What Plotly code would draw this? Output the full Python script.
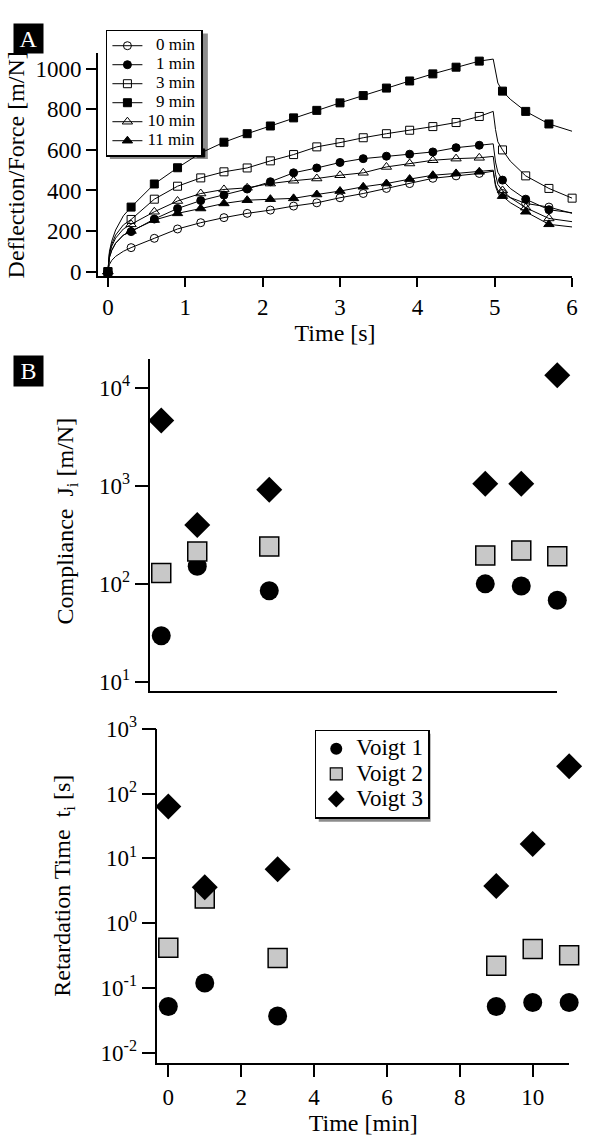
import plotly.graph_objects as go

W, H = 590, 1145
FONT = "Liberation Serif, Times New Roman, serif"

# ---------------- Panel A data ----------------
t_line = [0, 0.02, 0.05, 0.1, 0.2, 0.3, 0.6, 0.9, 1.2, 1.5, 1.8, 2.1, 2.4, 2.7, 3.0,
          3.3, 3.6, 3.9, 4.2, 4.5, 4.8, 4.98, 5.01, 5.04, 5.1, 5.2, 5.4, 5.7, 6.0]
t_mark = [0, 0.3, 0.6, 0.9, 1.2, 1.5, 1.8, 2.1, 2.4, 2.7, 3.0, 3.3, 3.6, 3.9, 4.2,
          4.5, 4.8, 5.1, 5.4, 5.7]
t_mark_3min = t_mark + [6.0]

series_names = ["0 min", "1 min", "3 min", "9 min", "10 min", "11 min"]
defl_0min = [0, 35, 55, 75, 100, 118, 164, 210, 241, 266, 287, 303, 323, 339, 364,
             385, 410, 434, 460, 472, 484, 495, 430, 400, 385, 365, 336, 318, 287]
defl_1min = [0, 70, 105, 140, 180, 197, 259, 311, 350, 377, 407, 443, 487, 511, 538,
             557, 569, 579, 590, 611, 623, 630, 540, 490, 451, 410, 357, 305, 290]
defl_3min = [0, 90, 135, 180, 230, 257, 357, 421, 462, 492, 511, 546, 577, 615, 636,
             660, 680, 697, 715, 735, 765, 790, 700, 640, 600, 545, 472, 410, 362]
defl_9min = [0, 100, 150, 205, 275, 318, 432, 512, 585, 638, 680, 718, 758, 795, 832,
             868, 905, 940, 975, 1008, 1038, 1048, 980, 930, 890, 850, 790, 728, 692]
defl_10min = [0, 85, 125, 165, 210, 233, 295, 348, 385, 405, 413, 434, 448, 459, 475,
              487, 516, 533, 549, 557, 561, 568, 480, 430, 400, 365, 315, 262, 246]
defl_11min = [0, 70, 105, 140, 180, 200, 254, 287, 311, 336, 352, 357, 361, 380, 397,
              418, 434, 456, 475, 484, 492, 500, 420, 390, 372, 340, 295, 233, 220]

# ---------------- Panel B data ----------------
time_min = [0, 1, 3, 9, 10, 11]
voigt_names = ["Voigt 1", "Voigt 2", "Voigt 3"]
J1 = [29.5, 151, 85, 100, 95, 68]
J2 = [129, 214, 240, 195, 219, 191]
J3 = [4650, 398, 912, 1050, 1050, 13500]
tau1 = [0.052, 0.12, 0.037, 0.052, 0.060, 0.060]
tau2 = [0.42, 2.4, 0.29, 0.22, 0.40, 0.32]
tau3 = [63, 3.6, 6.8, 3.75, 16.7, 263]

A_xticks = [0, 1, 2, 3, 4, 5, 6]
A_yticks = [0, 200, 400, 600, 800, 1000]
B_xticks = [0, 2, 4, 6, 8, 10]
J_ticks = [10, 100, 1000, 10000]
J_ticktext = ["10<sup>1</sup>", "10<sup>2</sup>", "10<sup>3</sup>", "10<sup>4</sup>"]
tau_ticks = [0.01, 0.1, 1, 10, 100, 1000]
tau_ticktext = ["10<sup>-2</sup>", "10<sup>-1</sup>", "10<sup>0</sup>",
                "10<sup>1</sup>", "10<sup>2</sup>", "10<sup>3</sup>"]

# ---------------- styles ----------------
A_styles = {
    "0 min": dict(symbol="circle-open", size=8),
    "1 min": dict(symbol="circle", size=8),
    "3 min": dict(symbol="square-open", size=8),
    "9 min": dict(symbol="square", size=8),
    "10 min": dict(symbol="triangle-up-open", size=9),
    "11 min": dict(symbol="triangle-up", size=9),
}
A_values = {"0 min": defl_0min, "1 min": defl_1min, "3 min": defl_3min,
            "9 min": defl_9min, "10 min": defl_10min, "11 min": defl_11min}


def px_x(p):
    return p / W


def px_y(p):
    return 1 - p / H


fig = go.Figure()

for name in series_names:
    vals = A_values[name]
    marks = t_mark_3min if name == "3 min" else t_mark
    mx = [t for t in t_line if t in marks]
    my = [v for t, v in zip(t_line, vals) if t in marks]
    st = A_styles[name]
    fig.add_trace(go.Scatter(x=t_line, y=vals, mode="lines", line=dict(color="black", width=1),
                             showlegend=False, xaxis="x", yaxis="y", hoverinfo="skip"))
    fig.add_trace(go.Scatter(x=mx, y=my, mode="markers", showlegend=False, xaxis="x", yaxis="y",
                             cliponaxis=False,
                             marker=dict(symbol=st["symbol"], size=st["size"], color="black",
                                         line=dict(color="black", width=1))))
    label = ("\u2007" if len(name) == 5 else "") + name
    fig.add_trace(go.Scatter(x=[None], y=[None], mode="lines+markers", xaxis="x", yaxis="y",
                             name="<span style='font-size:17px'>" + label + "</span>",
                             line=dict(color="black", width=1), legend="legend",
                             marker=dict(symbol=st["symbol"], size=st["size"], color="black",
                                         line=dict(color="black", width=1))))

B_styles = {
    "Voigt 1": dict(symbol="circle", size=19, color="black", lc="black", lw=0),
    "Voigt 2": dict(symbol="square", size=19, color="#c8c8c8", lc="black", lw=1.5),
    "Voigt 3": dict(symbol="diamond", size=20, color="black", lc="black", lw=0),
}
for name, jv, tv in zip(voigt_names, [J1, J2, J3], [tau1, tau2, tau3]):
    st = B_styles[name]
    mk = dict(symbol=st["symbol"], size=st["size"], color=st["color"],
              line=dict(color=st["lc"], width=st["lw"]))
    fig.add_trace(go.Scatter(x=time_min, y=jv, mode="markers", marker=mk, showlegend=False,
                             xaxis="x2", yaxis="y2", cliponaxis=False))
    fig.add_trace(go.Scatter(x=time_min, y=tv, mode="markers", marker=mk, showlegend=False,
                             xaxis="x3", yaxis="y3", cliponaxis=False))
    mk_leg = dict(symbol=st["symbol"], size=12 if name != "Voigt 3" else 13, color=st["color"],
                  line=dict(color=st["lc"], width=1.2 if st["lw"] else 0))
    fig.add_trace(go.Scatter(x=[None], y=[None], mode="markers", marker=mk_leg, xaxis="x3",
                             yaxis="y3", legend="legend2",
                             name="<span style='font-size:23px'>" + name + "</span>"))

axis_common = dict(showline=True, linecolor="black", linewidth=1.6, showgrid=False,
                   zeroline=False, ticks="outside", tickcolor="black", tickwidth=1.6,
                   tickfont=dict(family=FONT, size=23, color="black"))

shadow = dict(type="rect", xref="paper", yref="paper", layer="below",
              fillcolor="rgba(0,0,0,0.45)", line=dict(width=0))

fig.update_layout(
    width=W, height=H, margin=dict(l=0, r=0, t=0, b=0),
    paper_bgcolor="white", plot_bgcolor="rgba(0,0,0,0)",
    font=dict(family=FONT, color="black"),
    xaxis=dict(axis_common, domain=[px_x(99), px_x(578)], range=[-0.128, 6.0], anchor="y",
               tickvals=A_xticks, ticklen=9,
               title=dict(text="Time [s]", font=dict(size=24), standoff=2)),
    yaxis=dict(axis_common, domain=[px_y(266), px_y(38)], range=[-24, 1077], anchor="x",
               tickvals=A_yticks, ticklen=10,
               title=dict(text="Deflection/Force [m/N]", font=dict(size=24), standoff=4)),
    xaxis2=dict(axis_common, domain=[px_x(152), px_x(563)], range=[-0.30, 11.0], anchor="y2",
                ticks="", showticklabels=False),
    yaxis2=dict(axis_common, domain=[px_y(689), px_y(350)], type="log", range=[0.91, 4.30],
                anchor="x2", tickvals=J_ticks, ticktext=J_ticktext, ticklen=14),
    xaxis3=dict(axis_common, domain=[px_x(159), px_x(575)], range=[-0.30, 11.0], anchor="y3",
                tickvals=B_xticks, ticklen=13,
                title=dict(text="Time [min]", font=dict(size=24), standoff=2)),
    yaxis3=dict(axis_common, domain=[px_y(1069), px_y(728)], type="log", range=[-2.15, 3.0],
                anchor="x3", tickvals=tau_ticks, ticktext=tau_ticktext, ticklen=14),
    legend=dict(x=px_x(107), y=px_y(14), xanchor="left", yanchor="top",
                bgcolor="white", bordercolor="black", borderwidth=1.5,
                font=dict(family=FONT, size=12, color="black"), tracegroupgap=0,
                itemwidth=30),
    legend2=dict(x=px_x(318), y=px_y(729), xanchor="left", yanchor="top",
                 bgcolor="white", bordercolor="black", borderwidth=1.5,
                 font=dict(family=FONT, size=17, color="black"), itemwidth=30),
    shapes=[
        dict(shadow, x0=px_x(111), x1=px_x(210), y0=px_y(18), y1=px_y(146)),
        dict(shadow, x0=px_x(322), x1=px_x(435), y0=px_y(733), y1=px_y(823)),
    ],
    annotations=[
        dict(text="A", x=px_x(13), y=px_y(7), xref="paper", yref="paper", xanchor="left",
             yanchor="top", showarrow=False, bgcolor="black", width=27, height=27,
             font=dict(family=FONT, size=24, color="white")),
        dict(text="B", x=px_x(13), y=px_y(346), xref="paper", yref="paper", xanchor="left",
             yanchor="top", showarrow=False, bgcolor="black", width=27, height=28,
             font=dict(family=FONT, size=24, color="white")),
        dict(text="Compliance\u00a0\u00a0J<sub>i</sub> [m/N]", x=px_x(68), y=px_y(516),
             xref="paper", yref="paper", xanchor="center", yanchor="middle", textangle=-90,
             showarrow=False, font=dict(family=FONT, size=24, color="black")),
        dict(text="Retardation Time\u00a0\u00a0t<sub>i</sub> [s]", x=px_x(65), y=px_y(888),
             xref="paper", yref="paper", xanchor="center", yanchor="middle", textangle=-90,
             showarrow=False, font=dict(family=FONT, size=24, color="black")),
    ],
)

fig.write_html("out.html")
